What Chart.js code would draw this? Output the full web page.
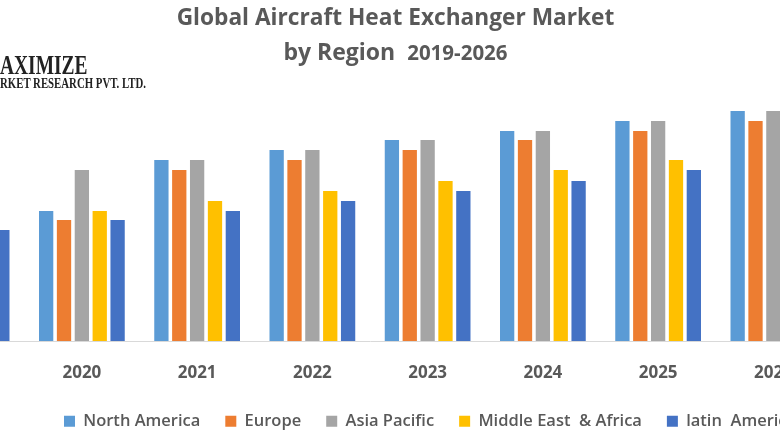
<!DOCTYPE html>
<html>
<head>
<meta charset="utf-8">
<title>Global Aircraft Heat Exchanger Market</title>
<script src="https://cdn.jsdelivr.net/npm/chart.js@4"></script>
<style>
  html, body { margin: 0; padding: 0; background: #fff; }
  #stage { position: relative; width: 780px; height: 440px; overflow: hidden; }
  #marketChart { position: absolute; left: -91px; top: 0; }
  .title { position: absolute; left: 0; width: 791px; text-align: center; white-space: pre;
           font-family: "Open Sans", sans-serif; font-weight: 700; color: #595959; }
  #title1 { top: 1px; font-size: 22.7px; line-height: 32px; }
  #title2 { top: 35px; font-size: 23px; line-height: 32px; }
  #title2 span { font-size: 20.5px; }
  .logo { position: absolute; left: 0; white-space: pre; color: #222; transform-origin: left top;
          font-family: "Liberation Serif", serif; font-weight: 700; transform: scaleX(0.72); }
  #logo1 { top: 50px; font-size: 27px; line-height: 30px; }
  #logo2 { top: 75px; font-size: 15px; line-height: 17px; }
</style>
</head>
<body>
<div id="stage">
  <canvas id="marketChart" width="922" height="440"></canvas>
  <div class="title" id="title1">Global Aircraft Heat Exchanger Market</div>
  <div class="title" id="title2">by Region  <span>2019-2026</span></div>
  <div class="logo" id="logo1">AXIMIZE</div>
  <div class="logo" id="logo2">RKET RESEARCH PVT. LTD.</div>
</div>
<script>
/* ── Data (2019 and 2026 are cut by the frame) ── */
const years        = ["2019", "2020", "2021", "2022", "2023", "2024", "2025", "2026"];
const northAmerica = [null, 13.0, 18.1, 19.1, 20.1, 21.0, 22.0, 23.0];
const europe       = [null, 12.1, 17.1, 18.1, 19.1, 20.1, 21.0, 22.0];
const asiaPacific  = [null, 17.1, 18.1, 19.1, 20.1, 21.0, 22.0, 23.0];
const middleEast   = [null, 13.0, 14.0, 15.0, 16.0, 17.1, 18.1, null];
const latinAmerica = [11.1, 12.1, 13.0, 14.0, 15.0, 16.0, 17.1, null];

const TEXT_COLOR = "#595959";

/* Legend sits where the reference has it, not centred on the wider canvas */
const legendPlacer = {
  id: "legendPlacer",
  afterLayout(chart) {
    const lg = chart.legend;
    const h  = lg.height;
    lg.left  = 130;
    lg.right = lg.left + lg.width;
    lg.top   = 388;
    lg.bottom = lg.top + h;
  },
};

function series(label, data, color) {
  return { label, data, backgroundColor: color, borderWidth: 0,
           categoryPercentage: 0.775, barPercentage: 0.8 };
}

new Chart(document.getElementById("marketChart").getContext("2d"), {
  type: "bar",
  data: {
    labels: years,
    datasets: [
      series("North America", northAmerica, "#5B9BD5"),
      series("Europe", europe, "#ED7D31"),
      series("Asia Pacific", asiaPacific, "#A5A5A5"),
      series("Middle East  & Africa", middleEast, "#FFC000"),
      series("latin  America", latinAmerica, "#4472C4"),
    ],
  },
  options: {
    responsive: false,
    animation: false,
    layout: { padding: { top: 91, left: 0, right: 0, bottom: 0 } },
    plugins: {
      title: { display: false },
      tooltip: { enabled: false },
      legend: {
        position: "bottom",
        align: "start",
        labels: {
          boxWidth: 11, boxHeight: 11, padding: 25, color: TEXT_COLOR,
          font: { family: "'Open Sans'", size: 16.5, weight: "600" },
        },
      },
    },
    scales: {
      x: {
        grid: { display: false, drawTicks: false },
        border: { color: "#D9D9D9", width: 1 },
        ticks: { color: TEXT_COLOR, padding: 22, maxRotation: 0, autoSkip: false,
                 font: { family: "'Open Sans'", size: 17, weight: "700" } },
        afterFit(scale) { scale.height = 99 - scale.chart.legend.height; },
      },
      y: { display: false, min: 0, max: 25 },
    },
  },
  plugins: [legendPlacer],
});
</script>
</body>
</html>
